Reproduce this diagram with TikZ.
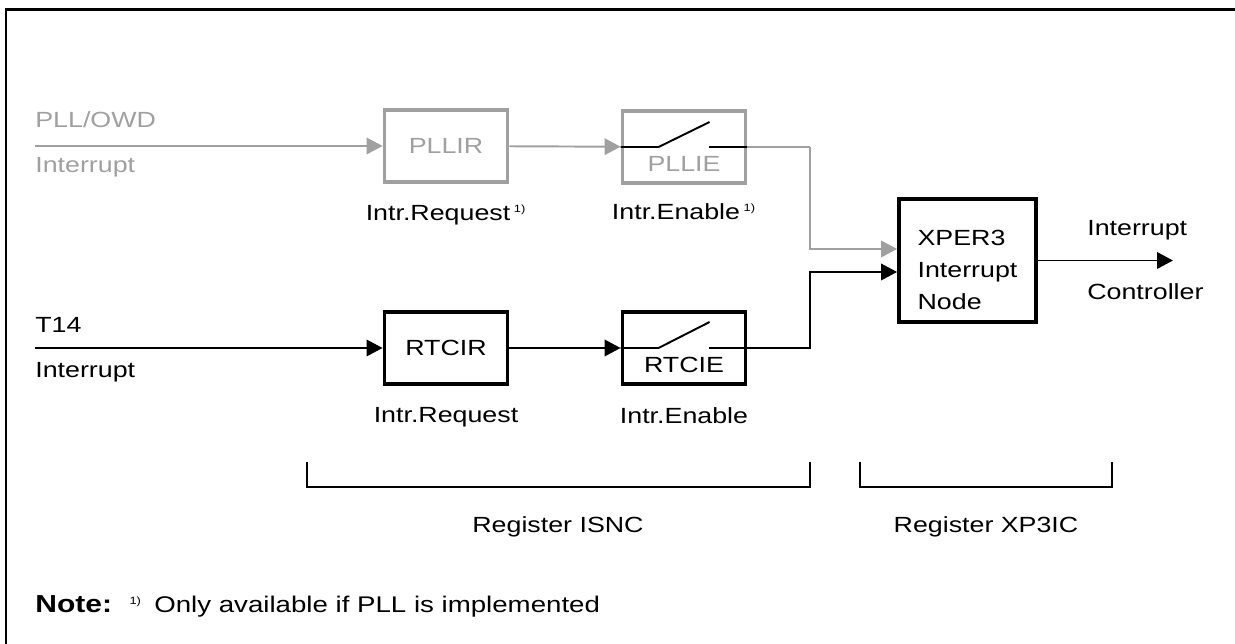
\documentclass[tikz,border=0pt]{standalone}
\usepackage{fontspec}
\setmainfont{Liberation Sans}[FakeStretch=1.22]
\usepackage{xcolor}
\usetikzlibrary{arrows.meta, positioning, calc}

\definecolor{pllgray}{HTML}{A0A0A0}
\newcommand{\fnmark}{\textsuperscript{\fontsize{6}{7}\selectfont 1)}}

\begin{document}
\begin{tikzpicture}[
    x=0.02cm, y=-0.02cm,
    font=\fontsize{12.5}{18}\selectfont,
    node distance=0.25cm and 0.15cm,
    reg/.style={draw, line width=2.2pt, minimum width=2.46cm, minimum height=1.44cm, inner sep=0pt},
    wire/.style={line width=1.1pt},
    arr/.style={-{Triangle[length=0.32cm, width=0.33cm]}, line width=1.1pt},
    txt/.style={inner sep=0pt, anchor=west},
    sw/.style={line width=1.1pt, black},
]
\useasboundingbox (0,0) rectangle (1235,644);
\draw[line width=1.7pt] (6,644) -- (6,10) -- (1235,10);

% PLL / OWD path (optional)
\node[txt, pllgray] (pllname) at (35,120) {PLL/OWD};
\node[txt, pllgray] (pllint) at (35,167) {Interrupt};
\coordinate (pllsrc) at (35,146);
\node[reg, draw=pllgray, text=pllgray] (pllir) at (446,146) {PLLIR};
\node[reg, draw=pllgray, label={[pllgray, yshift=-0.34cm]center:PLLIE}] (pllie) at (684,147) {};
\node[below=0.3cm of pllir] (pllreq) {Intr.Request\,\fnmark};
\node[below=0.24cm of pllie] (pllen) {Intr.Enable\,\fnmark};

% T14 path
\node[txt] (tname) at (35,325) {T14};
\node[txt] (tint) at (35,372) {Interrupt};
\coordinate (tsrc) at (35,348);
\node[reg] (rtcir) at (446,348) {RTCIR};
\node[reg, label={[yshift=-0.34cm]center:RTCIE}] (rtcie) at (684,348) {};
\node[below=0.3cm of rtcir] (rtcreq) {Intr.Request};
\node[below=0.3cm of rtcie] (rtcen) {Intr.Enable};

% interrupt node
\node[reg, minimum width=2.74cm, minimum height=2.46cm,
      label={[align=left, yshift=-0.19cm]center:XPER3\\Interrupt\\Node}] (xper) at (967.5,260.5) {};
\coordinate (out) at (1173,260.5);
\node[txt] (outa) at (1087,230) {Interrupt};
\node[txt] (outb) at (1087,292) {Controller};

% switches
\draw[sw] (pllie.west) -- ++(38,0) -- ++(51,-25);
\draw[sw] (pllie.east) -- ++(-38,0);
\draw[sw] (rtcie.west) -- ++(38,0) -- ++(51,-26);
\draw[sw] (rtcie.east) -- ++(-38,0);

% connections
\draw[arr, pllgray] (pllsrc) -- (pllir);
\draw[arr, pllgray] (pllir) -- (pllie);
\draw[wire, pllgray] (pllie.east) -- ++(63,0) coordinate (pllbend);
\draw[arr, pllgray] (pllbend) |- ([yshift=0.23cm]xper.west);
\draw[arr] (tsrc) -- (rtcir);
\draw[arr] (rtcir) -- (rtcie);
\draw[arr] (rtcie.east) -- ++(63,0) |- ([yshift=-0.23cm]xper.west);
\draw[arr] (xper) -- (out);

% register brackets
\draw[wire] (307,462) -- (307,487) -- (810,487) -- (810,462);
\draw[wire] (860,462) -- (860,487) -- (1112,487) -- (1112,462);
\node (isnc) at (558,527) {Register ISNC};
\node (xp3ic) at (986,527) {Register XP3IC};

\node[txt, font=\fontsize{12.9}{16}\selectfont] (note) at (35,606)
  {\textbf{\fontsize{14}{16}\selectfont Note:}\hspace{0.35cm}\fnmark\hspace{0.25cm}Only available if PLL is implemented};
\end{tikzpicture}
\end{document}
